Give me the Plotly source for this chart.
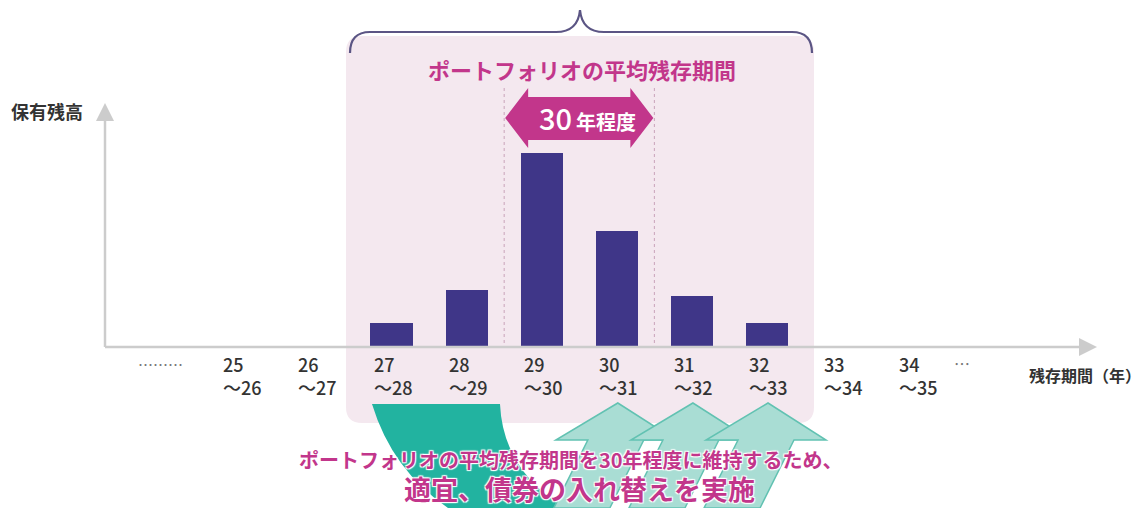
import plotly.graph_objects as go

W, H = 1145, 508

# ---------------- data ----------------
categories = ["25～26", "26～27", "27～28", "28～29", "29～30",
              "30～31", "31～32", "32～33", "33～34", "34～35"]
label_start = ["25", "26", "27", "28", "29", "30", "31", "32", "33", "34"]
label_end = ["～26", "～27", "～28", "～29", "～30", "～31", "～32", "～33", "～34", "～35"]
holdings = [0, 0, 2.3, 5.6, 19.3, 11.5, 5.0, 2.3, 0, 0]   # relative holdings
lead_mark = "………"
trail_mark = "…"
y_title = "保有残高"
x_title = "残存期間（年）"
panel_title = "ポートフォリオの平均残存期間"
span_num = "30"
span_unit = "年程度"
note_line1 = "ポートフォリオの平均残存期間を30年程度に維持するため、"
note_line2 = "適宜、債券の入れ替えを実施"
band_edges = [3.5, 5.5]          # category-index edges of the ~30-year band
swap_in_targets = [5, 6, 7]      # categories the replacement arrows point to

XR = [-3.213, 12.033]
YR = [-16.2, 34.6]

FONT = "Noto Sans CJK JP"
MAGENTA = "#c2368b"
BAR = "#3f3688"
PANEL = "#f4e8ef"
AXIS = "#cccccc"

x_idx = list(range(len(categories)))


def xpix(i):
    return (i - XR[0]) / (XR[1] - XR[0]) * W


def ypix(v):
    return (YR[1] - v) / (YR[1] - YR[0]) * H


def P(x, y):
    return f"{x / W:.5f},{1 - y / H:.5f}"


def poly(points):
    return "M " + " L ".join(P(x, y) for x, y in points) + " Z"


fig = go.Figure()
fig.add_trace(go.Bar(
    x=x_idx, y=holdings, width=0.56,
    marker=dict(color=BAR, line=dict(width=0)),
    hoverinfo="skip", customdata=categories,
))

shapes = []
base_y = ypix(0)

# pink panel (rounded)
x0, x1, y0, y1, r = 346, 814, 36, 423, 16
panel_path = (f"M {P(x0 + r, y0)} L {P(x1 - r, y0)} Q {P(x1, y0)} {P(x1, y0 + r)} "
              f"L {P(x1, y1 - r)} Q {P(x1, y1)} {P(x1 - r, y1)} L {P(x0 + r, y1)} "
              f"Q {P(x0, y1)} {P(x0, y1 - r)} L {P(x0, y0 + r)} Q {P(x0, y0)} {P(x0 + r, y0)} Z")
shapes.append(dict(type="path", xref="paper", yref="paper", path=panel_path,
                   fillcolor=PANEL, line=dict(width=0), layer="below"))

# brace
brace = (f"M {P(350, 53)} Q {P(350, 32)} {P(370, 32)} L {P(556, 32)} Q {P(578, 32)} {P(580, 10)} "
         f"Q {P(582, 32)} {P(604, 32)} L {P(792, 32)} Q {P(812, 32)} {P(812, 53)}")
shapes.append(dict(type="path", xref="paper", yref="paper", path=brace,
                   line=dict(color="#5b5584", width=2.2)))

# dashed band edges
for e in band_edges:
    shapes.append(dict(type="line", xref="paper", yref="paper",
                       x0=xpix(e) / W, x1=xpix(e) / W, y0=1 - 88 / H, y1=1 - base_y / H,
                       line=dict(color="#c9a3ba", width=1, dash="dot"), layer="below"))

# axes with arrowheads
ax_x = 105
shapes.append(dict(type="line", xref="paper", yref="paper", x0=ax_x / W, x1=1082 / W,
                   y0=1 - (base_y + 1) / H, y1=1 - (base_y + 1) / H, line=dict(color=AXIS, width=2.5)))
shapes.append(dict(type="line", xref="paper", yref="paper", x0=ax_x / W, x1=ax_x / W,
                   y0=1 - (base_y + 1) / H, y1=1 - 118 / H, line=dict(color=AXIS, width=2.5)))
shapes.append(dict(type="path", xref="paper", yref="paper",
                   path=poly([(1079, base_y - 8), (1097, base_y + 1), (1079, base_y + 10)]),
                   fillcolor=AXIS, line=dict(width=0)))
shapes.append(dict(type="path", xref="paper", yref="paper",
                   path=poly([(ax_x - 9, 121), (ax_x, 103), (ax_x + 9, 121)]),
                   fillcolor=AXIS, line=dict(width=0)))

# double arrow "30年程度"
lx, rx = xpix(band_edges[0]) + 1, xpix(band_edges[1]) - 1
cy = 118
dbl = poly([(lx, cy), (lx + 23, cy - 30), (lx + 23, cy - 21), (rx - 23, cy - 21), (rx - 23, cy - 30),
            (rx, cy), (rx - 23, cy + 30), (rx - 23, cy + 22), (lx + 23, cy + 22), (lx + 23, cy + 30)])
shapes.append(dict(type="path", xref="paper", yref="paper", path=dbl,
                   fillcolor=MAGENTA, line=dict(width=0)))

# dark teal arrow (bonds leaving)
dark = (f"M {P(372, 404)} L {P(500, 404)} Q {P(503, 470)} {P(565, 508)} L {P(448, 508)} "
        f"Q {P(392, 470)} {P(372, 404)} Z")
shapes.append(dict(type="path", xref="paper", yref="paper", path=dark,
                   fillcolor="#22b3a0", line=dict(width=0)))

# light teal arrows (bonds coming in)
for t in swap_in_targets:
    tx = xpix(t) + 1
    pts = [(tx, 403), (tx + 58, 440), (tx + 26, 440), (tx - 8, 508), (tx - 64, 508),
           (tx - 30, 440), (tx - 62, 440)]
    shapes.append(dict(type="path", xref="paper", yref="paper", path=poly(pts),
                       fillcolor="#a9ddd4", line=dict(color="#62c2b2", width=1.5)))

annotations = []


def note(x, y, text, size, color, weight=400, xanchor="center", yanchor="middle", **kw):
    annotations.append(dict(x=x / W, y=1 - y / H, xref="paper", yref="paper", text=text,
                            showarrow=False, xanchor=xanchor, yanchor=yanchor,
                            font=dict(family=FONT, size=size, color=color, weight=weight,
                                      shadow=kw.pop("shadow", "none")), **kw))


# category labels
for i, (a, b) in enumerate(zip(label_start, label_end)):
    annotations.append(dict(x=x_idx[i], y=1 - 375 / H, xref="x", yref="paper",
                            text=f"{a}<br>{b}", showarrow=False, xanchor="left", yanchor="middle",
                            xshift=-20, align="left",
                            font=dict(family=FONT, size=18, color="#333333", weight=500)))
note(xpix(x_idx[0] - 1) - 6, 364, lead_mark, 15, "#777777")
note(xpix(x_idx[-1] + 1) - 30, 363, trail_mark, 16, "#777777")
# axis titles
note(47, 111, y_title, 18, "#333333", 700)
note(1085, 375, x_title, 16, "#333333", 700)
# panel title
note(582, 69, panel_title, 22, MAGENTA, 700)
# arrow text
note(574, 117, span_num, 29, "white", 500, xanchor="right")
note(574, 121, span_unit, 20, "white", 700, xanchor="left")
# bottom note
outline = "1px 1px 1px white, -1px -1px 1px white, 1px -1px 1px white, -1px 1px 1px white"
note(571, 459, note_line1, 20, MAGENTA, 700, shadow=outline)
note(579, 488, note_line2, 27, MAGENTA, 700, shadow=outline)

fig.update_layout(
    width=W, height=H, margin=dict(l=0, r=0, t=0, b=0, pad=0),
    paper_bgcolor="white", plot_bgcolor="rgba(0,0,0,0)",
    xaxis=dict(range=XR, visible=False, fixedrange=True),
    yaxis=dict(range=YR, visible=False, fixedrange=True),
    showlegend=False, shapes=shapes, annotations=annotations, bargap=0,
)

fig.write_html("out.html", config={"displayModeBar": False},
               post_script="document.body.style.margin='0px';document.body.style.overflow='hidden';")
